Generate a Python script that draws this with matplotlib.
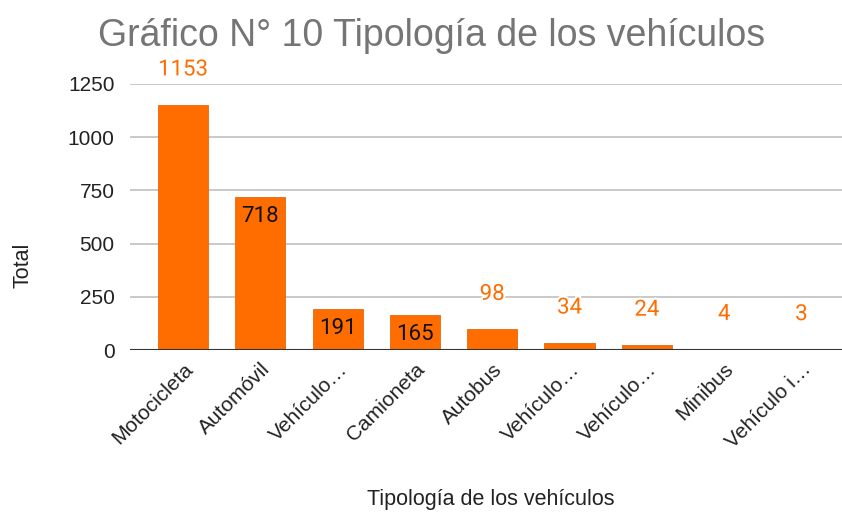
"""
Gráfico de barras: tipología de los vehículos.
"""

import matplotlib
matplotlib.use('Agg')
import matplotlib.pyplot as plt
import matplotlib.patheffects as pe

# Datos del gráfico
categorias = ['Motocicleta', 'Automóvil', 'Vehículo…', 'Camioneta', 'Autobus',
              'Vehículo…', 'Vehículo…', 'Minibus', 'Vehículo i…']
totales = [1153, 718, 191, 165, 98, 34, 24, 4, 3]
ticks_y = [0, 250, 500, 750, 1000, 1250]

NARANJA = '#ff6d01'
FUENTE = ['Liberation Sans', 'DejaVu Sans']
FUENTE_DATOS = ['Roboto', 'DejaVu Sans']

plt.rcParams['font.family'] = FUENTE

fig = plt.figure(figsize=(8.42, 5.13), dpi=100)
ax = fig.add_axes([0.1544, 0.3177, 0.8456, 0.5186])

x = list(range(len(categorias)))
ax.bar(x, totales, width=0.65, color=NARANJA, edgecolor='#e8680a',
       linewidth=0.6, zorder=3)

ax.set_xlim(-0.686, 8.525)
ax.set_ylim(0, 1250)
ax.set_yticks(ticks_y)
ax.yaxis.grid(True, color='#c0c0c0', linewidth=1.2, zorder=0)
ax.axhline(0, color='#333333', linewidth=1.5, zorder=4)

for lado in ['top', 'right', 'left', 'bottom']:
    ax.spines[lado].set_visible(False)
ax.tick_params(axis='both', length=0, labelsize=15, colors='#222222')
ax.tick_params(axis='y', pad=11)

ax.set_xticks(x)
ax.set_xticklabels(categorias, rotation=45, ha='right', rotation_mode='anchor')
ax.tick_params(axis='x', pad=7)

# Etiquetas de valores
halo = [pe.withStroke(linewidth=3, foreground='white')]
for xi, val in zip(x, totales):
    if 150 < val < 1000:
        ax.annotate(str(val), (xi, val), xytext=(0, -14), textcoords='offset points',
                    ha='center', va='center', fontsize=16, color='#111111',
                    family=FUENTE_DATOS, zorder=5)
    else:
        ax.annotate(str(val), (xi, val), xytext=(0, 25), textcoords='offset points',
                    ha='center', va='center', fontsize=16, color=NARANJA,
                    family=FUENTE_DATOS, path_effects=halo, zorder=5)

fig.text(0.512, 0.93, 'Gráfico N° 10 Tipología de los vehículos', ha='center',
         va='center', fontsize=27, color='#757575')
fig.text(0.583, 0.027, 'Tipología de los vehículos', ha='center', va='center',
         fontsize=15.5, color='#222222')
fig.text(0.027, 0.483, 'Total', ha='center', va='center', rotation=90,
         fontsize=15.5, color='#222222')

fig.savefig('out.png', dpi=100)
